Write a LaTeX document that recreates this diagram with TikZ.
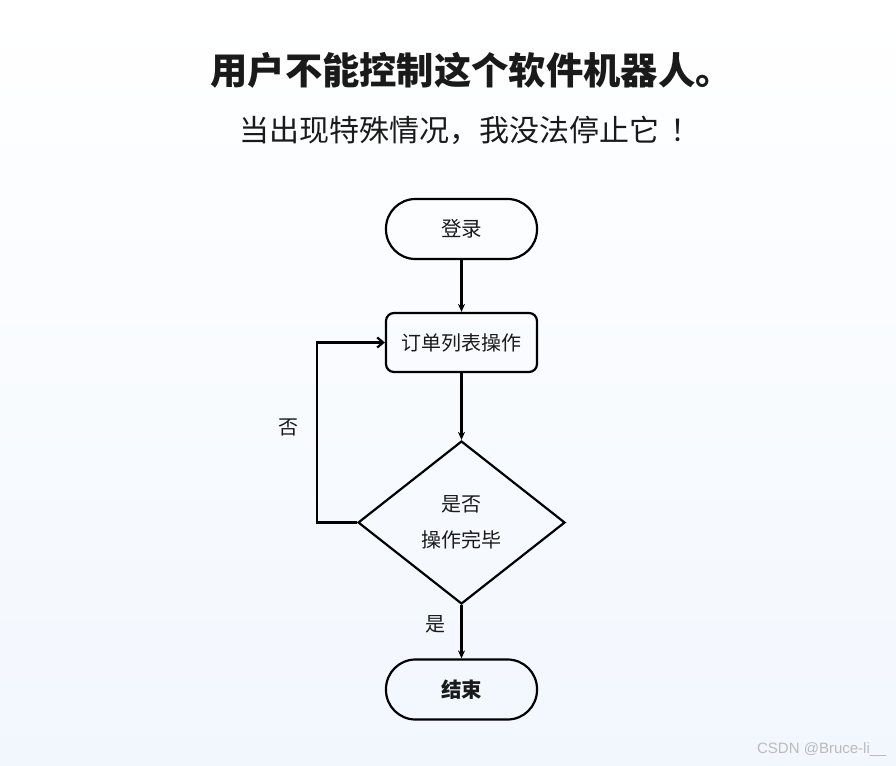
\documentclass[tikz,border=0pt]{standalone}
\usepackage{fontspec}
\setmainfont{Noto Sans CJK SC}
\newfontfamily\wmfont{Liberation Sans}
\usetikzlibrary{shapes.geometric,arrows.meta}
\definecolor{bgbot}{HTML}{F2F7FE}
\definecolor{txt}{HTML}{1A1A1A}
\definecolor{wm}{HTML}{BBBBBB}
\begin{document}
\begin{tikzpicture}[x=1pt,y=-1pt,line width=2.2pt,
  every node/.style={text=txt},
  stadium/.style={draw=black,line width=2.2pt,rounded corners=29.5pt,minimum width=151pt,minimum height=60pt,inner sep=0pt,font=\fontsize{20.5}{24}\selectfont},
  procbox/.style={draw=black,line width=2.2pt,rounded corners=8pt,minimum width=151pt,minimum height=59pt,inner sep=0pt,font=\fontsize{20}{24}\selectfont},
  decision/.style={draw=black,line width=2.2pt,diamond,minimum width=207pt,minimum height=163pt,inner sep=0pt,align=center,font=\fontsize{20}{36}\selectfont},
  conn/.style={draw=black,line width=2.2pt,-{Stealth[length=8pt,width=7pt]}},
  loopconn/.style={draw=black,line width=2.2pt,-{Straight Barb[length=6pt,width=10pt]}},
  lbl/.style={font=\fontsize{20}{24}\selectfont}
]
\shade[top color=white,bottom color=bgbot] (0,0) rectangle (896,765);
\useasboundingbox (0,0) rectangle (896,765);

\node[font=\fontsize{37.3}{42}\selectfont\bfseries] (title) at (471.5,70) {用户不能控制这个软件机器人。};
\node[font=\fontsize{30}{34}\selectfont] (sub) at (470,130) {当出现特殊情况，我没法停止它\hspace{0.4em}！};

\node[stadium] (start) at (461.5,229) {登录};
\node[procbox] (proc) at (461.5,342.5) {订单列表操作};
\node[decision] (dec) at (461.5,522.5) {是否\\操作完毕};
\node[stadium,font=\fontsize{20.5}{24}\selectfont\bfseries] (end) at (461.5,689.5) {结束};

\draw[conn] (start) -- (proc);
\draw[conn] (proc) -- (dec);
\draw[conn] (dec) -- (end);
\coordinate (lb) at (317,522.5);
\coordinate (lt) at (317,342.5);
\draw[loopconn] (dec.west) -- (lb) -- (lt) -- (proc.west);

\node[lbl] (no) at (288,427) {否};
\node[lbl] (yes) at (435,624) {是};

\node[anchor=east,text=wm,font=\wmfont\fontsize{15}{18}\selectfont] (wmk) at (891,750) {CSDN @Bruce-li\_\_};
\end{tikzpicture}
\end{document}
